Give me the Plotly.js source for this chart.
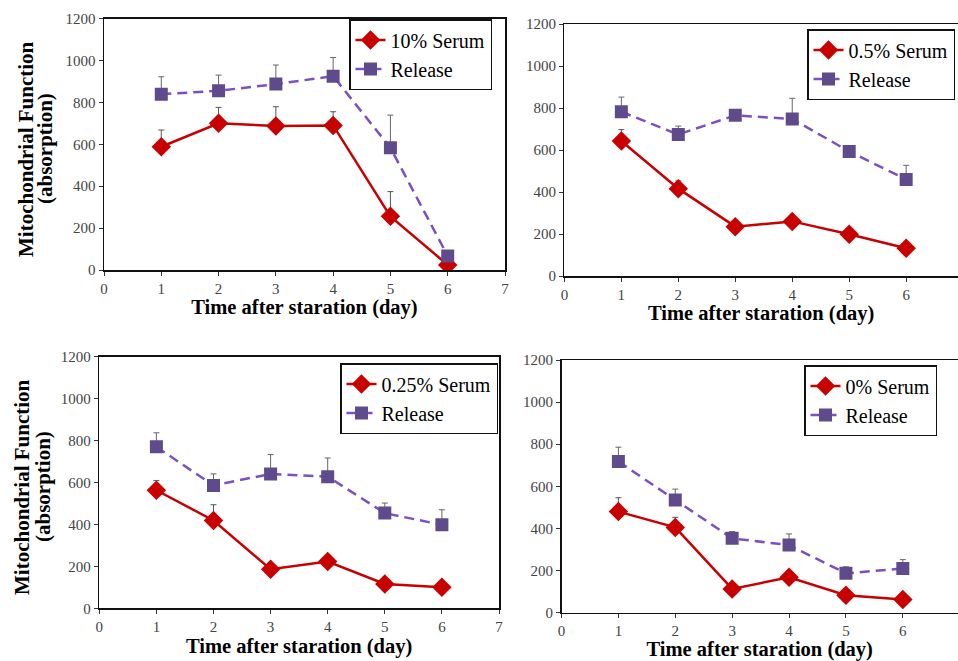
<!DOCTYPE html>
<html>
<head>
<meta charset="utf-8">
<script src="https://cdn.plot.ly/plotly-3.0.1.min.js"></script>
<style>html,body{margin:0;padding:0;background:#fff;}#chart{width:958px;height:661px;}</style>
</head>
<body>
<div id="chart"></div>
<script>
// ---- data ----
const days = [1, 2, 3, 4, 5, 6];

const serumNames = ["10% Serum", "0.5% Serum", "0.25% Serum", "0% Serum"];
const releaseName = "Release";

const serum10 = [588, 700, 687, 690, 256, 24];
const serum10Err = [80, 76, 92, 65, 118, 0];
const release10 = [839, 855, 887, 925, 583, 67];
const release10Err = [83, 75, 91, 89, 156, 0];

const serum05 = [643, 416, 235, 260, 199, 132];
const serum05Err = [54, 37, 0, 0, 0, 0];
const release05 = [782, 674, 765, 748, 593, 460];
const release05Err = [70, 40, 27, 98, 0, 67];

const serum025 = [563, 419, 186, 223, 116, 100];
const serum025Err = [46, 75, 0, 0, 0, 0];
const release025 = [770, 586, 641, 628, 454, 398];
const release025Err = [67, 55, 92, 89, 48, 72];

const serum0 = [480, 405, 113, 168, 83, 63];
const serum0Err = [66, 48, 0, 0, 0, 0];
const release0 = [718, 535, 353, 321, 187, 210];
const release0Err = [68, 52, 32, 53, 31, 42];

const xTickVals = [0, 1, 2, 3, 4, 5, 6, 7];
const yTickVals = [0, 200, 400, 600, 800, 1000, 1200];
const xTitle = "Time after staration (day)";
const yTitleLines = ["Mitochondrial Function", "(absorption)"];

// ---- layout helpers ----
const W = 958, H = 661;
const serif = "Liberation Serif";
const RED = "#C80000", PURPLE_LINE = "#7B4FC6", PURPLE_MK = "#5F4B8B";

const serumSets = [serum10, serum05, serum025, serum0];
const serumErrs = [serum10Err, serum05Err, serum025Err, serum0Err];
const releaseSets = [release10, release05, release025, release0];
const releaseErrs = [release10Err, release05Err, release025Err, release0Err];

const panels = [
  {l: 104, r: 505, t: 18.5, b: 270, xmax: 7, right: true, ytitle: [26, 45, 149], leg: [349, 19]},
  {l: 564.4, r: 958, t: 24, b: 276, xmax: 6.91, right: false, ytitle: null, leg: [807, 29]},
  {l: 99.3, r: 499, t: 356.7, b: 608.3, xmax: 7, right: true, ytitle: [22, 43, 487], leg: [340, 363]},
  {l: 561.5, r: 958, t: 360, b: 612.7, xmax: 6.97, right: false, ytitle: null, leg: [804, 365]}
];

const traces = [];
const annotations = [];
const layout = {
  width: W, height: H,
  margin: {l: 0, r: 0, t: 0, b: 0},
  paper_bgcolor: "#fff", plot_bgcolor: "#fff",
  font: {family: serif, color: "#000"},
  showlegend: true
};

panels.forEach((p, i) => {
  const n = i + 1;
  const xa = n === 1 ? "x" : "x" + n;
  const ya = n === 1 ? "y" : "y" + n;
  const legName = n === 1 ? "legend" : "legend" + n;

  traces.push({
    x: days, y: serumSets[i], xaxis: xa, yaxis: ya, legend: legName,
    name: serumNames[i], type: "scatter", mode: "lines+markers",
    line: {color: RED, width: 2.5},
    marker: {symbol: "diamond", size: 15, color: RED},
    error_y: {type: "data", symmetric: false, array: serumErrs[i],
      arrayminus: days.map(() => 0), color: "#555", thickness: 1, width: 3}
  });
  traces.push({
    x: days, y: releaseSets[i], xaxis: xa, yaxis: ya, legend: legName,
    name: releaseName, type: "scatter", mode: "lines+markers",
    line: {color: PURPLE_LINE, width: 2.5, dash: "10px,6px"},
    marker: {symbol: "square", size: 13, color: PURPLE_MK},
    error_y: {type: "data", symmetric: false, array: releaseErrs[i],
      arrayminus: days.map(() => 0), color: "#666", thickness: 1, width: 3}
  });

  const xKey = n === 1 ? "xaxis" : "xaxis" + n;
  const yKey = n === 1 ? "yaxis" : "yaxis" + n;
  layout[xKey] = {
    domain: [p.l / W, p.r / W], anchor: ya,
    range: [0, p.xmax], tickvals: xTickVals, ticktext: xTickVals.map(String),
    showgrid: false, zeroline: false,
    showline: true, linecolor: "#111", linewidth: 1.5, mirror: true,
    ticks: "outside", ticklen: 4, tickcolor: "#333",
    tickfont: {family: serif, size: 15, color: "#444"},
    title: {text: "<b>" + xTitle + "</b>", font: {family: serif, size: 20.5, color: "#000"}, standoff: 4}
  };
  layout[yKey] = {
    domain: [1 - p.b / H, 1 - p.t / H], anchor: xa,
    range: [0, 1200], tickvals: yTickVals, ticktext: yTickVals.map(String),
    showgrid: false, zeroline: false,
    showline: true, linecolor: "#111", linewidth: 1.5, mirror: p.right,
    ticks: "outside", ticklen: 4, tickcolor: "#333",
    tickfont: {family: serif, size: 15, color: "#444"}
  };
  if (p.ytitle) {
    yTitleLines.forEach((txt, k) => {
      annotations.push({
        text: "<b>" + txt + "</b>", textangle: -90, showarrow: false,
        xref: "paper", yref: "paper",
        x: p.ytitle[k] / W, y: 1 - p.ytitle[2] / H,
        xanchor: "center", yanchor: "middle",
        font: {family: serif, size: 21, color: "#000"}
      });
    });
  }
  layout[legName] = {
    x: p.leg[0] / W, y: 1 - p.leg[1] / H, xanchor: "left", yanchor: "top",
    xref: "paper", yref: "paper",
    bgcolor: "#fff", bordercolor: "#111", borderwidth: 1.5,
    font: {family: serif, size: 20, color: "#000"},
    itemwidth: 30, tracegroupgap: 0
  };
});
layout.annotations = annotations;

Plotly.newPlot("chart", traces, layout, {displayModeBar: false, staticPlot: true});
</script>
</body>
</html>
